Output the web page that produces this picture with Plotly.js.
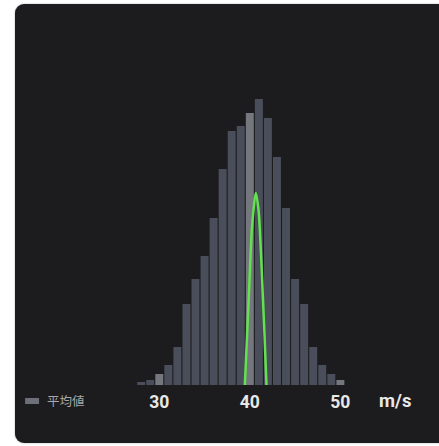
<!DOCTYPE html>
<html>
<head>
<meta charset="utf-8">
<script src="https://cdn.plot.ly/plotly-3.0.1.min.js"></script>
<style>
  html, body { margin: 0; padding: 0; background: #ffffff; width: 439px; height: 446px; overflow: hidden; }
  #card { position: absolute; left: 15px; top: 4px; width: 440px; height: 439px; background: #1c1c1e; border-radius: 9px; box-shadow: 0 0 2px rgba(0,0,0,0.35); }
  #chart { position: absolute; left: 0; top: 0; width: 439px; height: 446px; }
</style>
</head>
<body>
<div id="card"></div>
<div id="chart"></div>
<script>
// Histogram bins (m/s) and counts
var speeds = [28, 29, 30, 31, 32, 33, 34, 35, 36, 37, 38, 39, 40, 41, 42, 43, 44, 45, 46, 47, 48, 49, 50];
var counts = [3, 5, 11, 20, 38, 81, 106, 129, 167, 216, 254, 259, 272, 286, 267, 228, 177, 106, 81, 38, 20, 11, 5];
// bins drawn lighter
var highlightBins = [30, 40, 50];
// green curve
var curveX = [39.45, 39.70, 39.92, 40.22, 40.41, 40.66, 40.96, 41.11, 41.41, 41.62, 41.84];
var curveY = [0, 50, 95, 155, 175, 192, 175, 155, 95, 50, 0];
var tickVals = [30, 40, 50];
var tickText = ['30', '40', '50'];
var legendLabel = '平均値';
var unitLabel = 'm/s';

var barColors = speeds.map(function (s) {
  return highlightBins.indexOf(s) >= 0 ? '#75777f' : '#4a4e5a';
});

var traces = [
  {
    type: 'bar',
    x: speeds,
    y: counts,
    name: legendLabel,
    marker: { color: barColors, line: { width: 0 } },
    hoverinfo: 'x+y',
    showlegend: false
  },
  {
    type: 'scatter',
    mode: 'lines',
    x: curveX,
    y: curveY,
    line: { color: '#62e24e', width: 2.5, shape: 'spline', smoothing: 1 },
    showlegend: false,
    hoverinfo: 'skip'
  }
];

var layout = {
  width: 439,
  height: 446,
  margin: { l: 114, r: 76, t: 85, b: 61, pad: 0 },
  paper_bgcolor: 'rgba(0,0,0,0)',
  plot_bgcolor: 'rgba(0,0,0,0)',
  bargap: 0.12,
  showlegend: false,
  font: { family: 'Roboto, "Noto Sans CJK JP", sans-serif', color: '#e6e6e6' },
  xaxis: {
    range: [25, 52.5],
    showgrid: false,
    zeroline: false,
    showline: false,
    ticks: '',
    tickvals: tickVals,
    ticktext: tickText,
    tickfont: { size: 17.5, color: '#e8e8e8', weight: 'bold', family: 'Roboto, sans-serif' },
    ticklabelstandoff: 4,
    fixedrange: true
  },
  yaxis: {
    range: [0, 300],
    showgrid: false,
    zeroline: false,
    showline: false,
    showticklabels: false,
    ticks: '',
    fixedrange: true
  },
  shapes: [
    {
      type: 'rect', xref: 'paper', yref: 'paper',
      x0: -0.357, x1: -0.301, y0: -0.0433, y1: -0.0633,
      fillcolor: '#6e7079', line: { width: 0 }
    }
  ],
  annotations: [
    {
      xref: 'paper', yref: 'paper', x: -0.277, y: -0.0533,
      xanchor: 'left', yanchor: 'middle', showarrow: false,
      text: legendLabel,
      font: { family: '"Noto Sans CJK JP", sans-serif', size: 12.5, color: '#a8a8ab' }
    },
    {
      xref: 'paper', yref: 'paper', x: 1.1305, y: -0.0533,
      xanchor: 'center', yanchor: 'middle', showarrow: false,
      text: unitLabel,
      font: { family: 'Roboto, sans-serif', size: 18.5, color: '#e8e8e8', weight: 'bold' }
    }
  ]
};

Plotly.newPlot('chart', traces, layout, { displayModeBar: false, staticPlot: true });
</script>
</body>
</html>
